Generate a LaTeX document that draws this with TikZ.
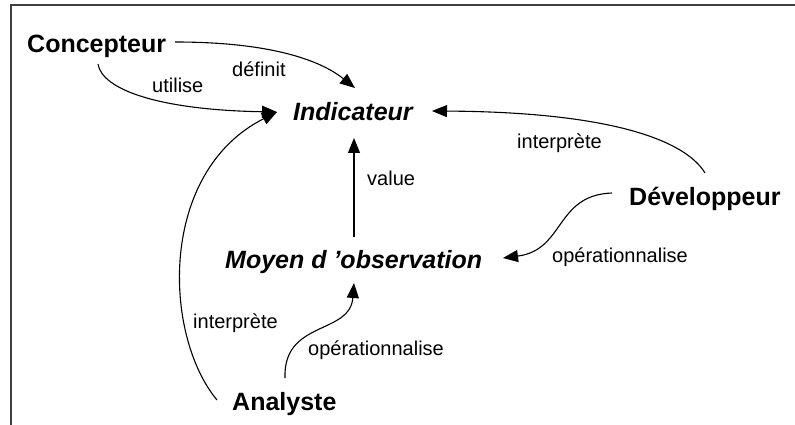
\documentclass[tikz,border=0pt]{standalone}
\usepackage{fontspec}
\setmainfont{Liberation Sans}
\usetikzlibrary{arrows.meta,calc}
\definecolor{framegray}{HTML}{404040}
\tikzset{
  actor/.style={anchor=base west, inner sep=0pt, font=\fontsize{25}{30}\selectfont\bfseries},
  concept/.style={anchor=base west, inner sep=0pt, font=\fontsize{25}{30}\selectfont\bfseries\itshape},
  rel/.style={anchor=base west, inner sep=0pt, font=\fontsize{20}{24}\selectfont},
  link/.style={line width=1.1pt, -{Triangle[length=15pt,width=12pt]}},
  frameline/.style={line width=2pt, draw=framegray}
}
\begin{document}
\begin{tikzpicture}[x=1pt,y=-1pt]
\useasboundingbox (0,0) rectangle (795,425);
\draw[frameline] (795,5) -- (11,5) -- (11,425);

\node[actor] (con) at (27,53) {Concepteur};
\node[concept] (ind) at (293,121) {Indicateur};
\node[concept] (moy) at (225,268) {Moyen d ’observation};
\node[actor] (dev) at (629,205) {Développeur};
\node[actor] (ana) at (232,410) {Analyste};

\node[rel] (ldef) at (232,77) {définit};
\node[rel] (luti) at (152,93) {utilise};
\node[rel] (lint1) at (517,149) {interprète};
\node[rel] (lval) at (367,185) {value};
\node[rel] (lop1) at (552,262) {opérationnalise};
\node[rel] (lint2) at (193,328) {interprète};
\node[rel] (lop2) at (308,355) {opérationnalise};

% Concepteur -> Indicateur (définit)
\draw[link] ($(con.base west)+(148,-11)$) .. controls (270,42) and (320,60) .. ($(ind.base west)+(62,-33)$);
% Concepteur -> Indicateur (utilise)
\draw[link] ($(con.base west)+(71,11)$) .. controls (102,90) and (160,110) .. ($(ind.base west)+(-16,-9)$);
% Analyste -> Indicateur (interprète)
\draw[link] ($(ana.base west)+(-15,-10)$) .. controls (163,335) and (158,172) .. ($(ind.base west)+(-16,-9)$);
% Moyen -> Indicateur (value)
\draw[link] ($(moy.base west)+(129,-31)$) -- ($(ind.base west)+(61,17)$);
% Developpeur -> Indicateur (interprète)
\draw[link] ($(dev.base west)+(76,-32)$) .. controls (685,140) and (610,112) .. ($(ind.base west)+(139,-10)$);
% Developpeur -> Moyen (opérationnalise)
\draw[link] ($(dev.base west)+(-17,-12)$) .. controls (555,195) and (565,250) .. ($(moy.base west)+(278,-10)$);
% Analyste -> Moyen (opérationnalise)
\draw[link] ($(ana.base west)+(53,-32)$) .. controls (283,320) and (350,335) .. ($(moy.base west)+(129,15)$);
\end{tikzpicture}
\end{document}
